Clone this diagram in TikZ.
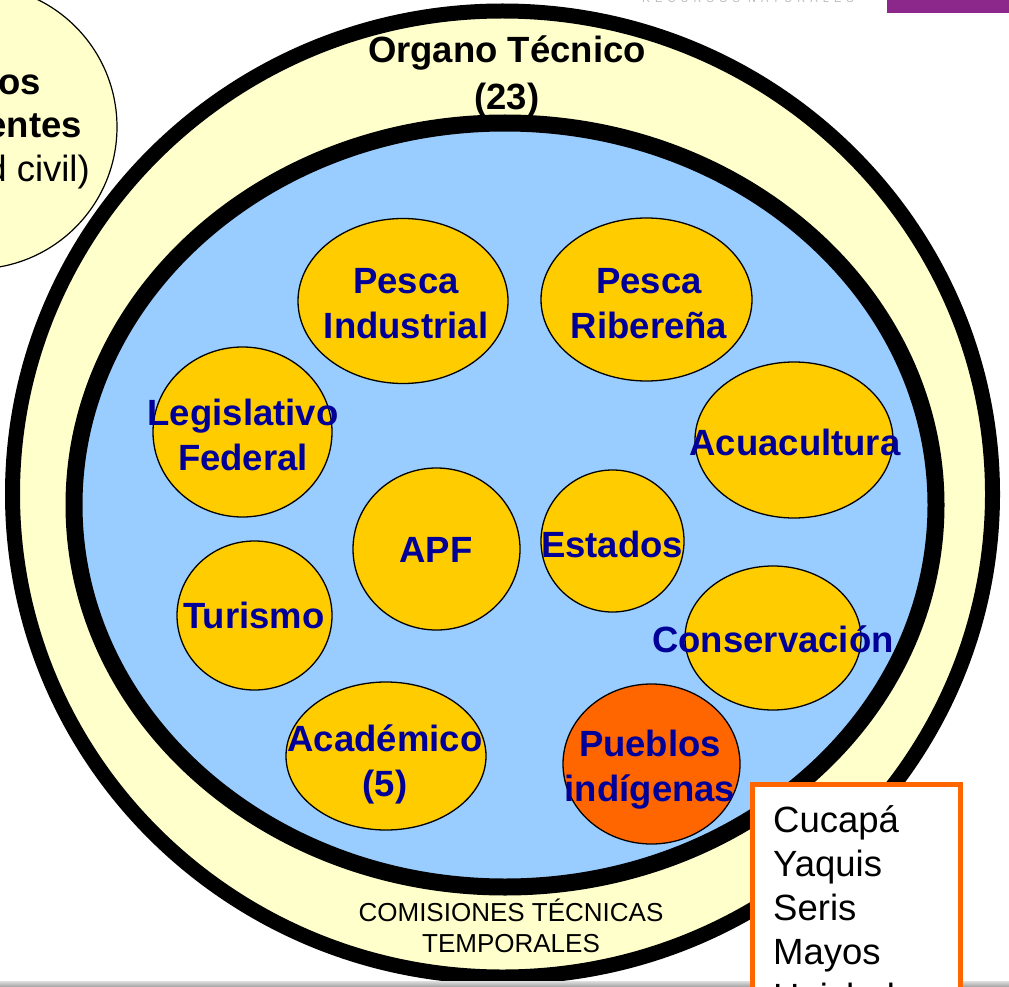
\documentclass[tikz,border=0pt]{standalone}
\usepackage{fontspec}
\setmainfont{Liberation Sans}
\newfontfamily\spacedfont[LetterSpace=46]{Liberation Sans}
\usetikzlibrary{shapes.geometric}
\definecolor{bandyellow}{HTML}{FFFFCC}
\definecolor{skyblue}{HTML}{99CCFF}
\definecolor{gold}{HTML}{FFCC00}
\definecolor{hotorange}{HTML}{FF6600}
\definecolor{navytext}{HTML}{000099}
\definecolor{logopurple}{RGB}{140,40,140}
\tikzset{
  member/.style={ellipse, draw=black, line width=1.3pt, fill=gold, inner sep=0pt, outer sep=0pt},
  lbl/.style={align=center, inner sep=0pt, text=navytext, font=\fontsize{36.5}{45}\selectfont\bfseries},
  plain/.style={inner sep=0pt}
}
\begin{document}
\begin{tikzpicture}[x=1pt,y=-1pt]
\useasboundingbox (0,0) rectangle (1009,987);
\begin{scope}
\clip (0,0) rectangle (1009,987);
% big rings
\draw[fill=bandyellow, line width=15pt] (502.5,494) ellipse [x radius=490pt, y radius=483pt];
\draw[fill=skyblue, line width=17pt] (505,505) ellipse [x radius=431pt, y radius=382pt];
% member ellipses
\node[member, minimum width=210pt, minimum height=165pt] (pescaind) at (403,301) {};
\node[member, minimum width=211pt, minimum height=163pt] (pescarib) at (646.5,299.5) {};
\node[member, minimum width=179pt, minimum height=170pt] (legis) at (242.5,432) {};
\node[member, minimum width=198pt, minimum height=156pt] (acua) at (794,440) {};
\node[member, minimum width=167pt, minimum height=162pt] (apf) at (436.5,549) {};
\node[member, minimum width=143pt, minimum height=142pt] (estados) at (612.5,541) {};
\node[member, minimum width=155pt, minimum height=149pt] (turismo) at (254.5,615.5) {};
\node[member, minimum width=176pt, minimum height=144pt] (conserv) at (773,638) {};
\node[member, minimum width=200pt, minimum height=148pt] (academ) at (386,756) {};
\node[member, fill=hotorange, minimum width=177pt, minimum height=160pt] (pueblos) at (651.5,764) {};
% labels
\node[lbl] (pescaindtxt) at (406,304) {Pesca\\Industrial};
\node[lbl] (pescaribtxt) at (649,304) {Pesca\\Ribereña};
\node[lbl] (legistxt) at (243,435) {Legislativo\\Federal};
\node[lbl] (acuatxt) at (795,442) {Acuacultura};
\node[lbl] (apftxt) at (436,550) {APF};
\node[lbl] (estadostxt) at (612,544) {Estados};
\node[lbl] (turismotxt) at (254,615) {Turismo};
\node[lbl] (conservtxt) at (773,639) {Conservación};
\node[lbl] (academtxt) at (385,764) {Académico\\(5)};
\node[lbl] (pueblostxt) at (650,770) {Pueblos\\indígenas};
\node[plain, align=center, font=\fontsize{36.5}{47}\selectfont\bfseries] (organo) at (507,76) {Organo Técnico\\(23)};
\node[plain, align=center, font=\fontsize{26}{31}\selectfont] (comisiones) at (511,926) {COMISIONES TÉCNICAS\\TEMPORALES};
% top-left circle
\draw[fill=bandyellow, line width=1.2pt] (-25,127) circle [radius=142pt];
\node[plain, anchor=base east, font=\fontsize{36.5}{45}\selectfont\bfseries] (grupos) at (41,95) {os};
\node[plain, anchor=base east, font=\fontsize{36.5}{45}\selectfont\bfseries] (represent) at (82,138) {entes};
\node[plain, anchor=base east, font=\fontsize{36.5}{45}\selectfont] (civil) at (90,182) {d civil)};
% bottom slide bar
\shade[top color=gray!25, bottom color=gray!75] (0,981) rectangle (1009,987);
% logo remains
\fill[logopurple] (887,0) rectangle (1009,13);
\node[plain, anchor=base, text=gray!55, font=\spacedfont\fontsize{11}{13}\selectfont] (logotext) at (748,3) {RECURSOS NATURALES};
% indigenous peoples box
\draw[draw=hotorange, fill=white, line width=5pt] (752.5,784.5) rectangle (960.5,1040);
\node[plain, anchor=north west, align=left, font=\fontsize{36.5}{44.3}\selectfont] (pueblolist) at (773,805) {Cucapá\\Yaquis\\Seris\\Mayos\\Huicholes};
\end{scope}
\end{tikzpicture}
\end{document}
